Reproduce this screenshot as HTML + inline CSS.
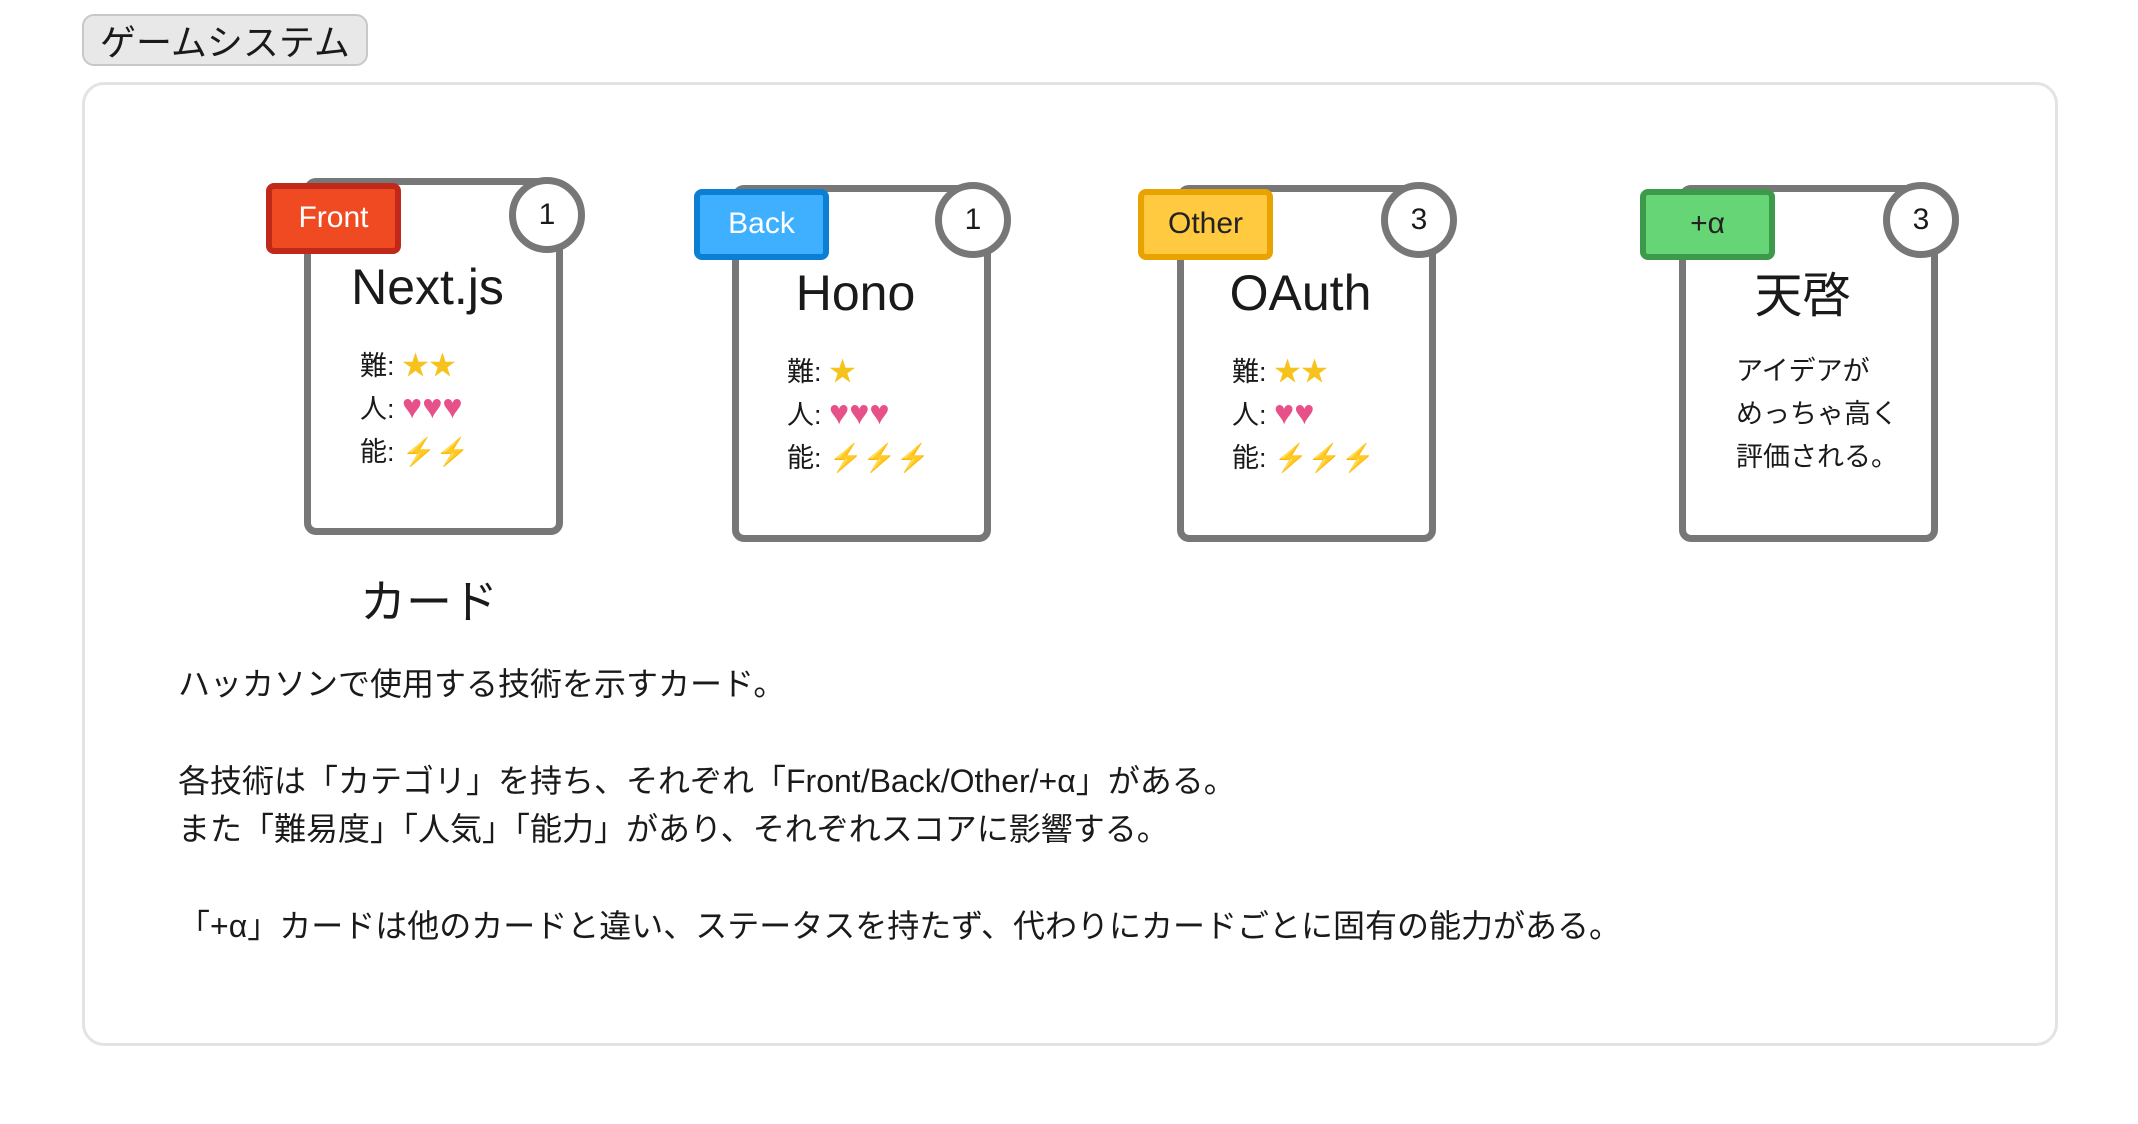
<!DOCTYPE html>
<html><head><meta charset="utf-8">
<style>
*{margin:0;padding:0;box-sizing:border-box}
body{width:2138px;height:1124px;background:#fff;position:relative;overflow:hidden;font-family:"Liberation Sans","Noto Sans CJK JP",sans-serif;color:#1a1a1a}
.abs{position:absolute}
.btn{left:82px;top:14px;width:286px;height:52px;background:#e8e8e8;border:2px solid #c8c8c8;border-radius:12px;font-size:36px;line-height:54px;padding-left:16px}
.frame{left:82px;top:82px;width:1976px;height:964px;border:3px solid #e3e3e3;border-radius:22px}
.card{width:259px;height:357px;border:7px solid #777;border-radius:12px;background:#fff}
.badge{width:135px;height:71px;border:6px solid;border-radius:8px;font-size:30px;text-align:center;line-height:58px}
.circ{width:76px;height:76px;border:7px solid #777;border-radius:50%;background:#fff;font-size:30px;text-align:center;line-height:62px}
.title{font-size:50px;text-align:center;width:259px}
.stat{font-size:27px;line-height:43px}
.st{color:#f6c21c}.ht{color:#e8508a;font-size:34px;line-height:27px}.bt{color:#f4b400}
.p{font-size:32px;left:178px}
</style></head><body>
<div class="abs btn">ゲームシステム</div>
<div class="abs frame"></div>

<div class="abs card" style="left:304px;top:178px"></div>
<div class="abs badge" style="left:266px;top:183px;background:#f04a23;border-color:#c0291a;color:#fff">Front</div>
<div class="abs circ" style="left:509px;top:177px">1</div>
<div class="abs title" style="left:298px;top:258px">Next.js</div>
<div class="abs stat" style="left:360px;top:345px">難: <span class="st">★★</span><br>人: <span class="ht">♥♥♥</span><br>能: <span class="bt">⚡⚡</span></div>

<div class="abs card" style="left:732px;top:185px"></div>
<div class="abs badge" style="left:694px;top:189px;background:#3fb0ff;border-color:#0a7fd4;color:#fff">Back</div>
<div class="abs circ" style="left:935px;top:182px">1</div>
<div class="abs title" style="left:726px;top:264px">Hono</div>
<div class="abs stat" style="left:787px;top:351px">難: <span class="st">★</span><br>人: <span class="ht">♥♥♥</span><br>能: <span class="bt">⚡⚡⚡</span></div>

<div class="abs card" style="left:1177px;top:185px"></div>
<div class="abs badge" style="left:1138px;top:189px;background:#ffc940;border-color:#e8a300;color:#222">Other</div>
<div class="abs circ" style="left:1381px;top:182px">3</div>
<div class="abs title" style="left:1171px;top:264px">OAuth</div>
<div class="abs stat" style="left:1232px;top:351px">難: <span class="st">★★</span><br>人: <span class="ht">♥♥</span><br>能: <span class="bt">⚡⚡⚡</span></div>

<div class="abs card" style="left:1679px;top:185px"></div>
<div class="abs badge" style="left:1640px;top:189px;background:#66d575;border-color:#3d9a4a;color:#222">+α</div>
<div class="abs circ" style="left:1883px;top:182px">3</div>
<div class="abs title" style="left:1673px;top:256px;font-size:48px">天啓</div>
<div class="abs stat" style="left:1736px;top:350px">アイデアが<br>めっちゃ高く<br>評価される。</div>

<div class="abs" style="left:360px;top:566px;font-size:46px">カード</div>

<div class="abs p" style="top:659px">ハッカソンで使用する技術を示すカード。</div>
<div class="abs p" style="top:756px">各技術は「カテゴリ」を持ち、それぞれ「Front/Back/Other/+α」がある。</div>
<div class="abs p" style="top:804px">また「難易度」「人気」「能力」があり、それぞれスコアに影響する。</div>
<div class="abs p" style="top:901px">「+α」カードは他のカードと違い、ステータスを持たず、代わりにカードごとに固有の能力がある。</div>
</body></html>
